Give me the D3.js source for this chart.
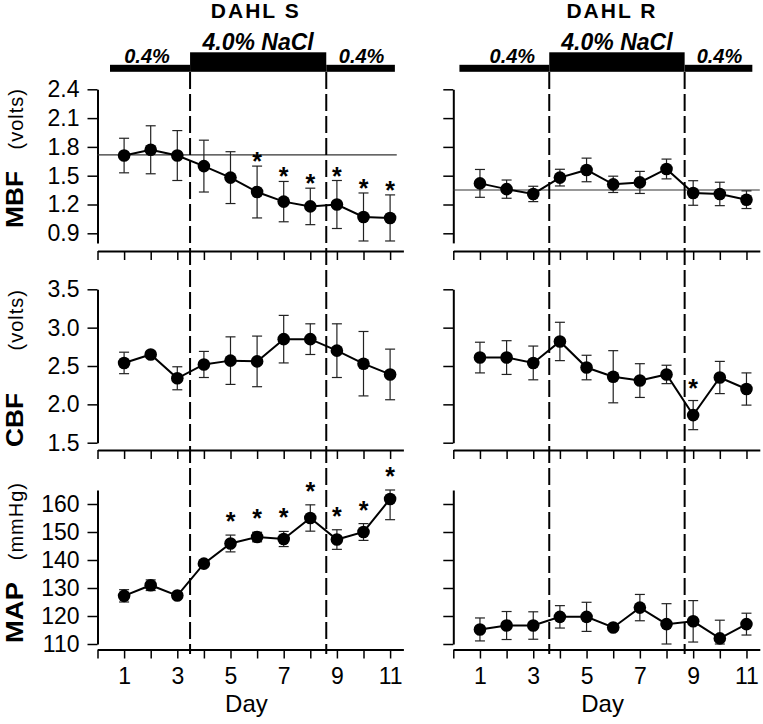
<!DOCTYPE html>
<html>
<head>
<meta charset="utf-8">
<script src="https://cdn.jsdelivr.net/npm/d3@7"></script>
<style>
  html, body { margin: 0; padding: 0; background: #fff; }
  svg { display: block; font-family: "Liberation Sans", Arial, Helvetica, sans-serif; }
</style>
</head>
<body>
<svg id="chart" width="763" height="724"></svg>
<script>
// ---------------- DATA ----------------
const days = [1, 2, 3, 4, 5, 6, 7, 8, 9, 10, 11];
const xTicks = [0, 1, 2, 3, 4, 5, 6, 7, 8, 9, 10, 11];
const xTickLabels = [1, 3, 5, 7, 9, 11];

const groups = ["DAHL S", "DAHL R"];
const dietLabels = ["0.4%", "4.0% NaCl", "0.4%"];
// diet periods, in days: [bar start, switch to 4%, switch back, bar end]
const dietS = [0.47, 3.48, 8.6, 11.18];
const dietR = [0.23, 3.6, 8.68, 11.22];

const measures = ["MBF", "CBF", "MAP"];
const units = ["(volts)", "(volts)", "(mmHg)"];
const mbfTicks = [0.9, 1.2, 1.5, 1.8, 2.1, 2.4];
const cbfTicks = [1.5, 2.0, 2.5, 3.0, 3.5];
const mapTicks = [110, 120, 130, 140, 150, 160];

// Dahl S
const mbfS    = [1.71, 1.77, 1.71, 1.60, 1.48, 1.33, 1.23, 1.18, 1.20, 1.07, 1.06];
const mbfSErr = [0.18, 0.25, 0.26, 0.27, 0.27, 0.27, 0.21, 0.19, 0.25, 0.25, 0.24];
const mbfSRef = 1.716;
const mbfSSig = [6, 7, 8, 9, 10, 11];
const cbfS    = [2.54, 2.65, 2.34, 2.52, 2.57, 2.56, 2.85, 2.85, 2.70, 2.53, 2.39];
const cbfSErr = [0.14, 0.04, 0.15, 0.17, 0.31, 0.33, 0.31, 0.20, 0.35, 0.42, 0.33];
const cbfSSig = [];
const mapS    = [127.2, 131.0, 127.3, 138.7, 145.9, 148.2, 147.5, 155.0, 147.3, 150.0, 161.8];
const mapSErr = [2.2, 1.9, 1.0, 1.0, 3.0, 1.7, 2.7, 4.7, 3.5, 3.0, 7.4];
const mapSSig = [5, 6, 7, 8, 9, 10, 11];

// Dahl R
const mbfR    = [1.42, 1.36, 1.31, 1.48, 1.56, 1.41, 1.43, 1.57, 1.32, 1.31, 1.25];
const mbfRErr = [0.145, 0.095, 0.08, 0.087, 0.123, 0.085, 0.115, 0.103, 0.128, 0.122, 0.092];
const mbfRRef = 1.351;
const mbfRSig = [];
const cbfR    = [2.61, 2.61, 2.54, 2.82, 2.48, 2.36, 2.31, 2.39, 1.86, 2.35, 2.20];
const cbfRErr = [0.20, 0.22, 0.22, 0.25, 0.16, 0.34, 0.22, 0.12, 0.19, 0.21, 0.21];
const cbfRSig = [9];
const mapR    = [115.2, 116.6, 116.6, 119.7, 119.7, 115.9, 123.0, 117.1, 118.1, 112.0, 117.1];
const mapRErr = [4.1, 5.0, 4.9, 4.0, 5.2, 1.0, 4.7, 7.3, 7.4, 6.5, 3.9];
const mapRSig = [];

// ---------------- LAYOUT ----------------
const svg = d3.select("#chart");
const FONT = '"Liberation Sans", Arial, Helvetica, sans-serif';

const cols = [
  { x0: 97.5, x1: 403.4, title: groups[0], diet: dietS, refEnd: 11.25,
    series: [
      { v: mbfS, e: mbfSErr, sig: mbfSSig, ref: mbfSRef },
      { v: cbfS, e: cbfSErr, sig: cbfSSig },
      { v: mapS, e: mapSErr, sig: mapSSig }
    ], labels: true },
  { x0: 453.3, x1: 759.8, title: groups[1], diet: dietR, refEnd: 11.5,
    series: [
      { v: mbfR, e: mbfRErr, sig: mbfRSig, ref: mbfRRef },
      { v: cbfR, e: cbfRErr, sig: cbfRSig },
      { v: mapR, e: mapRErr, sig: mapRSig }
    ], labels: false }
];

const rows = [
  { domain: [0.8, 2.4], range: [242.9, 89.3], ticks: mbfTicks, fmt: d3.format(".1f"), xAxisY: 251, starGap: 10, labBottom: 228, labLen: 57, unitTop: 88 },
  { domain: [1.5, 3.5], range: [442.7, 289.3], ticks: cbfTicks, fmt: d3.format(".1f"), xAxisY: 450, starGap: 18, labBottom: 447, labLen: 54, unitTop: 289 },
  { domain: [110, 165], range: [644, 490], ticks: mapTicks, fmt: d3.format("d"), xAxisY: 649.5, starGap: 19, labBottom: 643, labLen: 61, unitTop: 482 }
];

const xDomain = [0, 11.5];
const dashTop = 72, dashBottom = 654;

cols.forEach((col, ci) => {
  const x = d3.scaleLinear().domain(xDomain).range([col.x0, col.x1]);

  // Title
  svg.append("text")
    .attr("x", x(5.95)).attr("y", 17.5)
    .attr("text-anchor", "middle")
    .style("font-family", FONT).style("font-weight", "bold")
    .style("font-size", "21px").style("letter-spacing", "2px")
    .text(col.title);

  // Diet bars
  const d = col.diet;
  const thinTop = 64.8, barBottom = 71.8, thickTop = 52.3;
  const g = svg.append("g");
  g.append("rect").attr("x", x(d[0])).attr("y", thinTop)
    .attr("width", x(d[1]) - x(d[0])).attr("height", barBottom - thinTop).attr("fill", "#000");
  g.append("rect").attr("x", x(d[1])).attr("y", thickTop)
    .attr("width", x(d[2]) - x(d[1])).attr("height", barBottom - thickTop).attr("fill", "#000");
  g.append("rect").attr("x", x(d[2])).attr("y", thinTop)
    .attr("width", x(d[3]) - x(d[2])).attr("height", barBottom - thinTop).attr("fill", "#000");

  const dietText = [
    { t: dietLabels[0], cx: (x(d[0]) + x(d[1])) / 2 + (ci === 0 ? -3 : 8), y: 63, fs: 20 },
    { t: dietLabels[1], cx: (x(d[1]) + x(d[2])) / 2, y: 50, fs: 23 },
    { t: dietLabels[2], cx: (x(d[2]) + x(d[3])) / 2 + 1, y: 63, fs: 20 }
  ];
  dietText.forEach(o => {
    g.append("text").attr("x", o.cx).attr("y", o.y)
      .attr("text-anchor", "middle")
      .style("font-family", FONT).style("font-weight", "bold").style("font-style", "italic")
      .style("font-size", o.fs + "px")
      .text(o.t);
  });

  rows.forEach((row, ri) => {
    const y = d3.scaleLinear().domain(row.domain).range(row.range);
    const s = col.series[ri];
    const panel = svg.append("g");

    // Y axis
    const yAxis = d3.axisLeft(y).tickValues(row.ticks).tickSize(10).tickSizeOuter(0).tickPadding(8)
      .tickFormat(col.labels ? row.fmt : () => "");
    const ya = panel.append("g").attr("transform", `translate(${col.x0},0)`).call(yAxis);
    ya.select(".domain").attr("stroke", "#000").attr("stroke-width", 2);
    ya.selectAll(".tick line").attr("stroke", "#000").attr("stroke-width", 1.5);
    ya.selectAll("text").style("font-family", FONT).style("font-size", "23px").attr("fill", "#000");

    // X axis
    const xAxis = d3.axisBottom(x).tickValues(xTicks).tickSize(9).tickSizeOuter(0).tickPadding(9)
      .tickFormat(v => (ri === 2 && xTickLabels.includes(v)) ? String(v) : "");
    const xa = panel.append("g").attr("transform", `translate(0,${row.xAxisY})`).call(xAxis);
    xa.select(".domain").attr("stroke", "#000").attr("stroke-width", 2);
    xa.selectAll(".tick line").attr("stroke", "#000").attr("stroke-width", 1.5);
    xa.selectAll("text").style("font-family", FONT).style("font-size", "23px").attr("fill", "#000");

    // Reference line
    if (s.ref !== undefined) {
      panel.append("line")
        .attr("x1", x(0)).attr("x2", x(col.refEnd))
        .attr("y1", y(s.ref)).attr("y2", y(s.ref))
        .attr("stroke", "#333").attr("stroke-width", 1.2);
    }

    const [lo, hi] = row.domain;
    const clip = v => Math.max(lo, Math.min(hi, v));

    // Error bars
    const eb = panel.append("g").attr("stroke", "#222").attr("stroke-width", 1.2);
    days.forEach((dd, i) => {
      const top = y(clip(s.v[i] + s.e[i])), bot = y(clip(s.v[i] - s.e[i]));
      eb.append("line").attr("x1", x(dd)).attr("x2", x(dd)).attr("y1", top).attr("y2", bot);
      eb.append("line").attr("x1", x(dd) - 5).attr("x2", x(dd) + 5).attr("y1", top).attr("y2", top);
      eb.append("line").attr("x1", x(dd) - 5).attr("x2", x(dd) + 5).attr("y1", bot).attr("y2", bot);
    });

    // Line
    const line = d3.line().x((dd) => x(dd)).y((dd, i) => y(s.v[i]));
    panel.append("path").datum(days).attr("d", line)
      .attr("fill", "none").attr("stroke", "#000").attr("stroke-width", 2);

    // Points
    panel.selectAll("circle.pt").data(days).enter().append("circle")
      .attr("class", "pt")
      .attr("cx", dd => x(dd)).attr("cy", (dd, i) => y(s.v[i]))
      .attr("r", 6.3).attr("fill", "#000");

    // Significance stars
    s.sig.forEach(dd => {
      const i = days.indexOf(dd);
      const topY = y(clip(s.v[i] + s.e[i]));
      const cy = topY - row.starGap;
      panel.append("text").attr("x", x(dd)).attr("y", cy + 14)
        .attr("text-anchor", "middle")
        .style("font-family", FONT).style("font-weight", "bold").style("font-size", "25px")
        .text("*");
    });

    // Y label (left column only)
    if (col.labels) {
      panel.append("text")
        .attr("transform", `translate(23,${row.labBottom}) rotate(-90)`)
        .attr("text-anchor", "start")
        .attr("textLength", row.labLen).attr("lengthAdjust", "spacingAndGlyphs")
        .style("font-family", FONT).style("font-weight", "bold").style("font-size", "24px")
        .text(measures[ri]);
      panel.append("text")
        .attr("transform", `translate(23,${row.unitTop}) rotate(-90)`)
        .attr("text-anchor", "end")
        .style("font-family", FONT).style("font-size", "20px").style("letter-spacing", "1px")
        .text(units[ri]);
    }
  });

  // Day label
  svg.append("text")
    .attr("x", x(5.6)).attr("y", 712)
    .attr("text-anchor", "middle")
    .style("font-family", FONT).style("font-size", "24px")
    .text("Day");

  // Dashed diet-switch lines
  [d[1], d[2]].forEach(v => {
    svg.append("line")
      .attr("x1", x(v)).attr("x2", x(v))
      .attr("y1", dashTop).attr("y2", dashBottom)
      .attr("stroke", "#000").attr("stroke-width", 2)
      .attr("stroke-dasharray", "17,5");
  });
});
</script>
</body>
</html>
